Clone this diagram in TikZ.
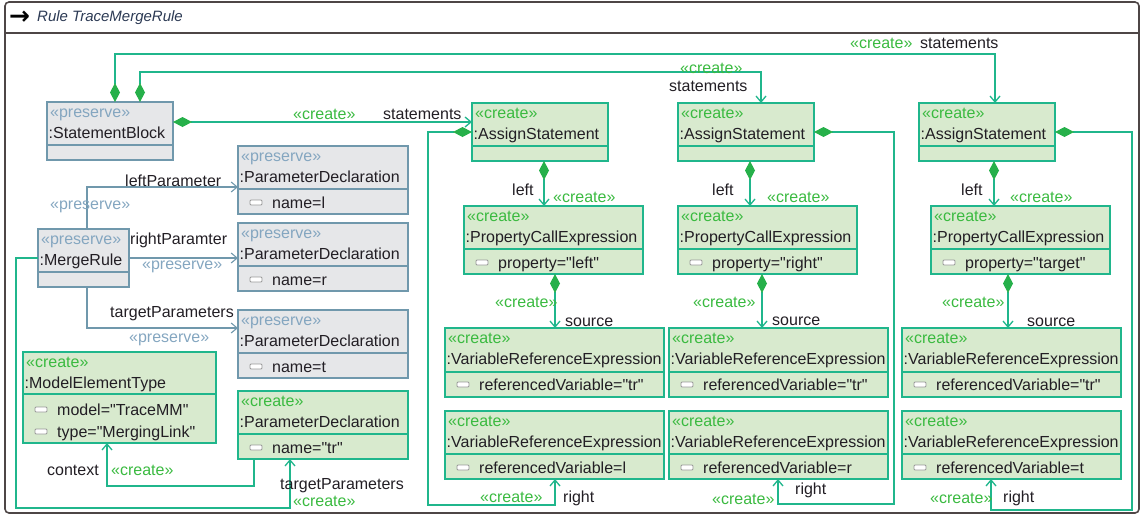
\documentclass[tikz,border=0pt]{standalone}
\usepackage{fontspec}
\newfontfamily\umlfont{Liberation Sans}
\newfontfamily\arrowfont{DejaVu Sans}
\usepackage{tikz}
\usetikzlibrary{arrows.meta, calc}

\definecolor{createfill}{RGB}{216,234,206}
\definecolor{createline}{RGB}{32,182,140}
\definecolor{createtext}{RGB}{58,186,64}
\definecolor{diamondgreen}{RGB}{38,176,74}
\definecolor{preservefill}{RGB}{230,231,233}
\definecolor{preserveline}{RGB}{112,152,172}
\definecolor{preservetext}{RGB}{132,166,192}
\definecolor{roletext}{RGB}{34,30,36}
\definecolor{frameline}{RGB}{78,70,70}
\definecolor{titletext}{RGB}{44,58,84}

\tikzset{
    every node/.style={font=\umlfont\fontsize{16}{18}\selectfont, text=roletext},
    createbox/.style={draw=createline, fill=createfill, line width=1.2pt, anchor=north west, inner sep=0, outer sep=0},
    preservebox/.style={draw=preserveline, fill=preservefill, line width=1.2pt, anchor=north west, inner sep=0, outer sep=0},
    createborder/.style={draw=createline, line width=1.2pt},
    preserveborder/.style={draw=preserveline, line width=1.2pt},
    lbl/.style={anchor=base west, inner sep=0},
    createtag/.style={lbl, text=createtext},
    preservetag/.style={lbl, text=preservetext},
    createlbl/.style={lbl, text=createtext},
    preservelbl/.style={lbl, text=preservetext},
    attrmark/.style={draw=gray!80, fill=white, line width=0.8pt, rounded corners=1pt},
    comp/.style={draw=createline, line width=1.3pt, {Diamond[length=19pt,width=10pt,color=diamondgreen,fill=diamondgreen]}-{Straight Barb[length=6pt,width=10pt]}},
    createref/.style={draw=createline, line width=1.3pt, -{Straight Barb[length=6pt,width=10pt]}},
    preserveref/.style={draw=preserveline, line width=1.1pt, -{Straight Barb[length=6pt,width=10pt]}},
    rulebox/.style={draw=frameline, line width=1.6pt, rounded corners=4pt, anchor=north west, inner sep=0, outer sep=0, minimum width=1134pt, minimum height=511pt}
}

% kind, name, x, y, width, height, compartment line, type
\newcommand\umlobj[8]{%
    \node[#1box, minimum width=#5pt, minimum height=#6pt] (#2) at (#3,#4) {};
    \draw[#1border] ([yshift=-#7pt]#2.north west) -- ([yshift=-#7pt]#2.north east);
    \node[#1tag] (#2-tag) at ([shift={(3,15)}]#2.north west) {«#1»};
    \node[lbl] (#2-type) at ([shift={(1.5,36)}]#2.north west) {:#8};
}
\newcommand\umlattr[3]{%
    \draw[attrmark] ([shift={(12,#2-8)}]#1.north west) rectangle ([shift={(24,#2-3)}]#1.north west);
    \node[lbl] (#1-a#2) at ([shift={(34,#2)}]#1.north west) {#3};
}

\begin{document}
\begin{tikzpicture}[x=1pt, y=-1pt]
        \useasboundingbox (0,0) rectangle (1143,517);
        \node[rulebox] (rule) at (5,2) {};
        \draw[frameline, line width=1.4pt] ([yshift=-31pt]rule.north west) -- ([yshift=-31pt]rule.north east);
        \node[lbl, font=\arrowfont\bfseries\fontsize{25}{25}\selectfont, text=black] (rule-arrow) at (9,24) {→};
        \node[lbl, font=\umlfont\fontsize{15}{18}\selectfont\itshape, text=titletext] (rule-title) at (37,21) {Rule TraceMergeRule};

        \umlobj{preserve}{sb}{47}{102}{126}{58}{43}{StatementBlock}
        \umlobj{preserve}{mr}{38}{229}{91}{58}{43}{MergeRule}
        \umlobj{preserve}{pdl}{238}{146}{170}{68}{43}{ParameterDeclaration}
        \umlattr{pdl}{62}{name=l}
        \umlobj{preserve}{pdr}{238}{223}{170}{68}{43}{ParameterDeclaration}
        \umlattr{pdr}{62}{name=r}
        \umlobj{preserve}{pdt}{238}{310}{170}{68}{43}{ParameterDeclaration}
        \umlattr{pdt}{62}{name=t}
        \umlobj{create}{met}{23}{352}{193}{91}{42}{ModelElementType}
        \umlattr{met}{63}{model="TraceMM"}
        \umlattr{met}{85}{type="MergingLink"}
        \umlobj{create}{pdtr}{238}{391}{170}{68}{43}{ParameterDeclaration}
        \umlattr{pdtr}{62}{name="tr"}

        \foreach \ax/\px/\vx/\prop/\var [count=\i] in {472/464/445/left/l, 678/678/669/right/r, 919/931/902/target/t} {
            \umlobj{create}{as\i}{\ax}{103}{136}{58}{43}{AssignStatement}
            \umlobj{create}{pce\i}{\px}{206}{179}{68}{43}{PropertyCallExpression}
            \umlattr{pce\i}{62}{property="\prop"}
            \umlobj{create}{vt\i}{\vx}{328}{219}{69}{44}{VariableReferenceExpression}
            \umlattr{vt\i}{62}{referencedVariable="tr"}
            \umlobj{create}{vl\i}{\vx}{411}{219}{68}{43}{VariableReferenceExpression}
            \umlattr{vl\i}{62}{referencedVariable=\var}
        }

        \coordinate (sbout) at ([yshift=9pt]sb.east);
        \draw[comp] (sbout) -- (sbout -| as1.west);
        \node[createlbl] (st1-c) at (293,119) {«create»};
        \node[lbl] (st1-r) at (383,119) {statements};
        \draw[comp] ([xshift=93pt]sb.north west) -- ++(0,-30) -| ([xshift=83pt]as2.north west);
        \node[createlbl] (st2-c) at (680,73) {«create»};
        \node[lbl] (st2-r) at (669,91) {statements};
        \draw[comp] ([xshift=68pt]sb.north west) -- ++(0,-48) -| ([xshift=76pt]as3.north west);
        \node[createlbl] (st3-c) at (850,48) {«create»};
        \node[lbl] (st3-r) at (920,48) {statements};

        \coordinate (mrtop) at ([xshift=49pt]mr.north west);
        \draw[preserveref] (mrtop) |- ([yshift=-7pt]pdl.west);
        \node[lbl] (lp-r) at (125,186) {leftParameter};
        \node[preservelbl] (lp-p) at (50,209) {«preserve»};
        \draw[preserveref] (mr.east) -- (mr.east -| pdr.west);
        \node[lbl] (rp-r) at (130,244) {rightParamter};
        \node[preservelbl] (rp-p) at (142,269) {«preserve»};
        \coordinate (mrbot) at ([xshift=49pt]mr.south west);
        \draw[preserveref] (mrbot) |- ([yshift=16pt]pdt.west);
        \node[lbl] (tp-r) at (110,317) {targetParameters};
        \node[preservelbl] (tp-p) at (129,342) {«preserve»};

        \coordinate (tpin) at ([xshift=52pt]pdtr.south west);
        \draw[createref] (mr.west) -- ++(-22,0) |- ([yshift=-49pt]tpin) -- (tpin);
        \node[lbl] (tc-r) at (280,489) {targetParameters};
        \node[createlbl] (tc-c) at (293,506) {«create»};
        \coordinate (ctout) at ([xshift=16pt]pdtr.south west);
        \draw[createref] (ctout) -- ++(0,27) -| ([xshift=84pt]met.south west);
        \node[lbl] (cx-r) at (47,475) {context};
        \node[createlbl] (cx-c) at (111,475) {«create»};

        \coordinate (l1) at ([xshift=72pt]as1.south west);
        \coordinate (l2) at ([xshift=72pt]as2.south west);
        \coordinate (l3) at ([xshift=75pt]as3.south west);
        \draw[comp] (l1) -- (l1 |- pce1.north);
        \draw[comp] (l2) -- (l2 |- pce2.north);
        \draw[comp] (l3) -- (l3 |- pce3.north);
        \node[lbl] (lf1-r) at (512,195) {left};
        \node[createlbl] (lf1-c) at (553,202) {«create»};
        \node[lbl] (lf2-r) at (712,195) {left};
        \node[createlbl] (lf2-c) at (767,202) {«create»};
        \node[lbl] (lf3-r) at (961,195) {left};
        \node[createlbl] (lf3-c) at (1010,202) {«create»};

        \coordinate (s1) at ([xshift=91pt]pce1.south west);
        \coordinate (s2) at ([xshift=84pt]pce2.south west);
        \coordinate (s3) at ([xshift=77pt]pce3.south west);
        \draw[comp] (s1) -- (s1 |- vt1.north);
        \draw[comp] (s2) -- (s2 |- vt2.north);
        \draw[comp] (s3) -- (s3 |- vt3.north);
        \node[createlbl] (sc1-c) at (495,307) {«create»};
        \node[lbl] (sc1-r) at (565,326) {source};
        \node[createlbl] (sc2-c) at (693,307) {«create»};
        \node[lbl] (sc2-r) at (772,325) {source};
        \node[createlbl] (sc3-c) at (942,307) {«create»};
        \node[lbl] (sc3-r) at (1027,326) {source};

        \coordinate (r1) at ([xshift=110pt]vl1.south west);
        \coordinate (r2) at ([xshift=109pt]vl2.south west);
        \coordinate (r3) at ([xshift=89pt]vl3.south west);
        \draw[comp] (as1.west) -- ++(-44,0) |- ([yshift=-26pt]r1) -- (r1);
        \draw[comp] (as2.east) -- ++(80,0) |- ([yshift=-25pt]r2) -- (r2);
        \draw[comp] (as3.east) -- ++(77,0) |- ([yshift=-31pt]r3) -- (r3);
        \node[createlbl] (rt1-c) at (480,502) {«create»};
        \node[lbl] (rt1-r) at (563,502) {right};
        \node[createlbl] (rt2-c) at (712,504) {«create»};
        \node[lbl] (rt2-r) at (795,494) {right};
        \node[createlbl] (rt3-c) at (930,503) {«create»};
        \node[lbl] (rt3-r) at (1003,502) {right};
\end{tikzpicture}
\end{document}
